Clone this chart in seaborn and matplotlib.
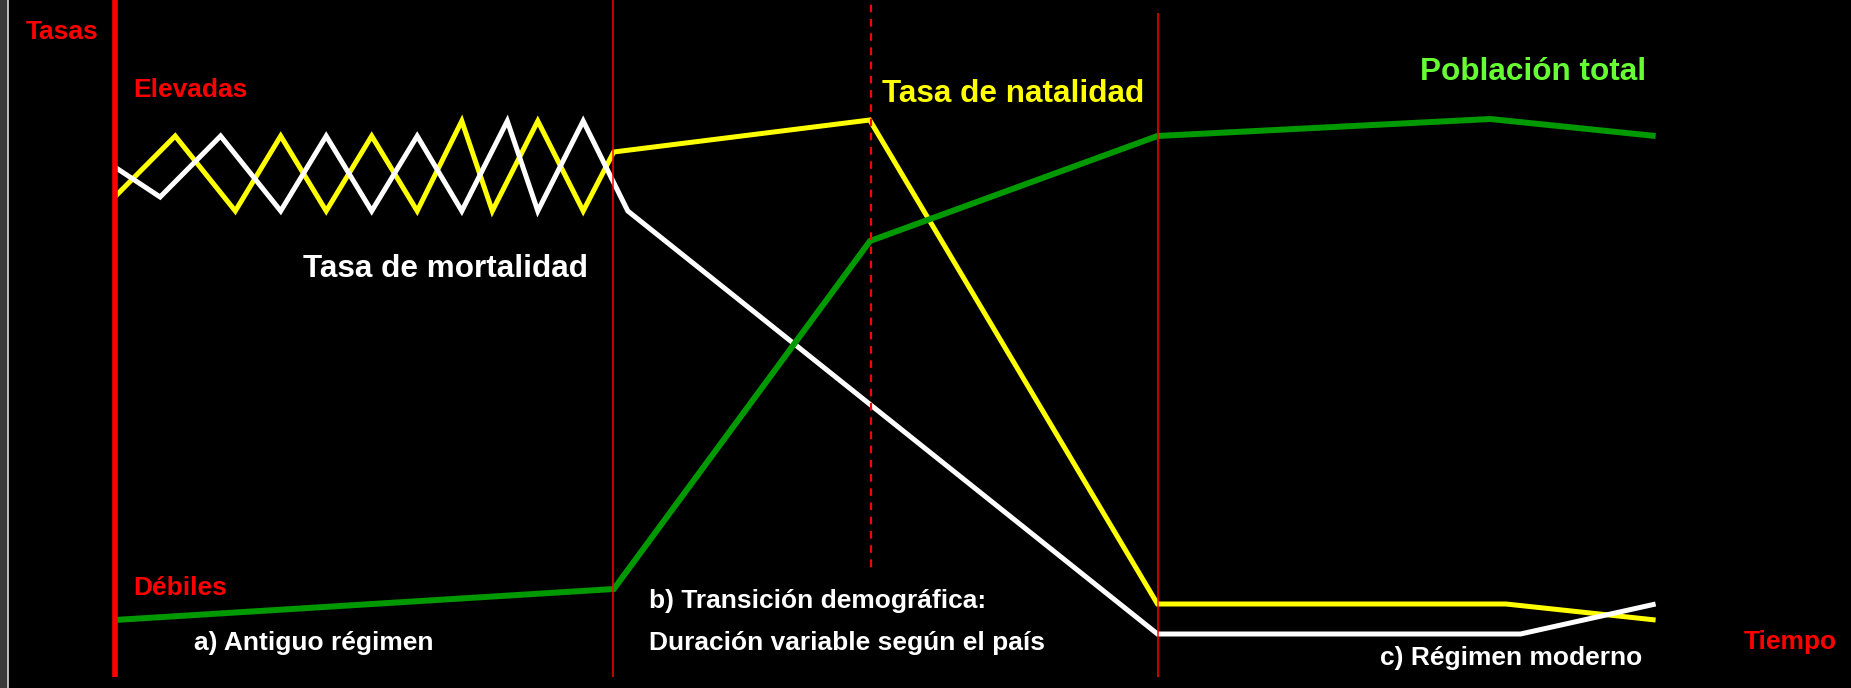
import pandas as pd
import matplotlib.pyplot as plt
import seaborn as sns

# --- data (x = tiempo, y = tasa) ---
natalidad_t = [114.7, 175.2, 235.3, 280.7, 326.2, 371.7, 417.2, 461.8, 492.3, 537.8, 583.2,
               613.7, 869.7, 1157.5, 1506.0, 1655.6]
natalidad_v = [491, 552, 477, 552, 477, 552, 477, 567, 477, 567, 477,
               536, 568, 84, 84, 68]

mortalidad_t = [114.7, 160.1, 220.6, 280.7, 326.2, 371.7, 417.2, 461.8, 507.3, 537.8, 583.2,
                627.8, 1157.5, 1520.5, 1655.6]
mortalidad_v = [521, 491, 552, 477, 552, 477, 552, 477, 567, 477, 567,
                477, 54, 54, 84]

poblacion_t = [114.7, 613.8, 870.0, 1157.5, 1490.3, 1655.6]
poblacion_v = [68, 99, 447, 552, 569, 552]

# phase boundaries: (x, bottom, top, style)
fases_x = [114.7, 613.0, 870.5, 1157.5]
fases_bottom = [11, 11, 121, 11]
fases_top = [688, 688, 688, 675]

df = pd.concat([
    pd.DataFrame({'tiempo': natalidad_t, 'tasa': natalidad_v, 'serie': 'natalidad'}),
    pd.DataFrame({'tiempo': mortalidad_t, 'tasa': mortalidad_v, 'serie': 'mortalidad'}),
    pd.DataFrame({'tiempo': poblacion_t, 'tasa': poblacion_v, 'serie': 'poblacion'}),
])

colors = {'natalidad': '#FFFF00', 'mortalidad': '#FFFFFF', 'poblacion': '#009900'}
widths = {'natalidad': 3.6, 'mortalidad': 3.6, 'poblacion': 4.3}

sns.set_theme(style='dark')
plt.rcParams['font.family'] = ['Liberation Sans', 'DejaVu Sans']
plt.rcParams['font.weight'] = 'bold'

fig = plt.figure(figsize=(18.51, 6.88), dpi=100, facecolor='black')
ax = fig.add_axes([0, 0, 1, 1])
ax.set_facecolor('black')
ax.set_xlim(0, 1851)
ax.set_ylim(0, 688)
ax.axis('off')

# left border strip
ax.axvspan(0, 7.3, color='#3a3a3a', zorder=0)
ax.axvline(8.2, color='#d8d8d8', lw=1.2, zorder=0)

for serie in ['natalidad', 'mortalidad', 'poblacion']:
    sub = df[df['serie'] == serie]
    sns.lineplot(data=sub, x='tiempo', y='tasa', sort=False, estimator=None,
                 color=colors[serie], linewidth=widths[serie], ax=ax, legend=False)
for line in ax.get_lines():
    line.set_solid_capstyle('butt')
    line.set_solid_joinstyle('miter')

# phase separators
ax.vlines(fases_x[0], fases_bottom[0], fases_top[0], color='#FF0000', lw=4, zorder=5)
ax.vlines(fases_x[1], fases_bottom[1], fases_top[1], color='#FF0000', lw=1.1, zorder=5)
ax.vlines(fases_x[2], fases_bottom[2], fases_top[2], color='#FF0000', lw=1.6,
          linestyles=(0, (3.4, 3.0)), zorder=5)
ax.vlines(fases_x[3], fases_bottom[3], fases_top[3], color='#FF0000', lw=1.1, zorder=5)

big, small = 22.7, 19

def label(x, y, s, color, size):
    ax.text(x, 688 - y, s, color=color, fontsize=size, fontweight='bold',
            ha='left', va='baseline', zorder=6)

label(26, 39, 'Tasas', '#FF0000', small)
label(133, 96.7, 'Elevadas', '#FF0000', small)
label(133, 595, 'Débiles', '#FF0000', small)
label(1744, 649.5, 'Tiempo', '#FF0000', small)

label(303, 277.3, 'Tasa de mortalidad', 'white', big)
label(882, 101.7, 'Tasa de natalidad', '#FFFF00', big)
label(1420, 80, 'Población total', '#66FF33', big)

label(194, 650, 'a) Antiguo régimen', 'white', small)
label(649, 608.3, 'b) Transición demográfica:', 'white', small)
label(649, 650, 'Duración variable según el país', 'white', small)
label(1380, 665, 'c) Régimen moderno', 'white', small)

fig.savefig('out.png', dpi=100, facecolor='black')
